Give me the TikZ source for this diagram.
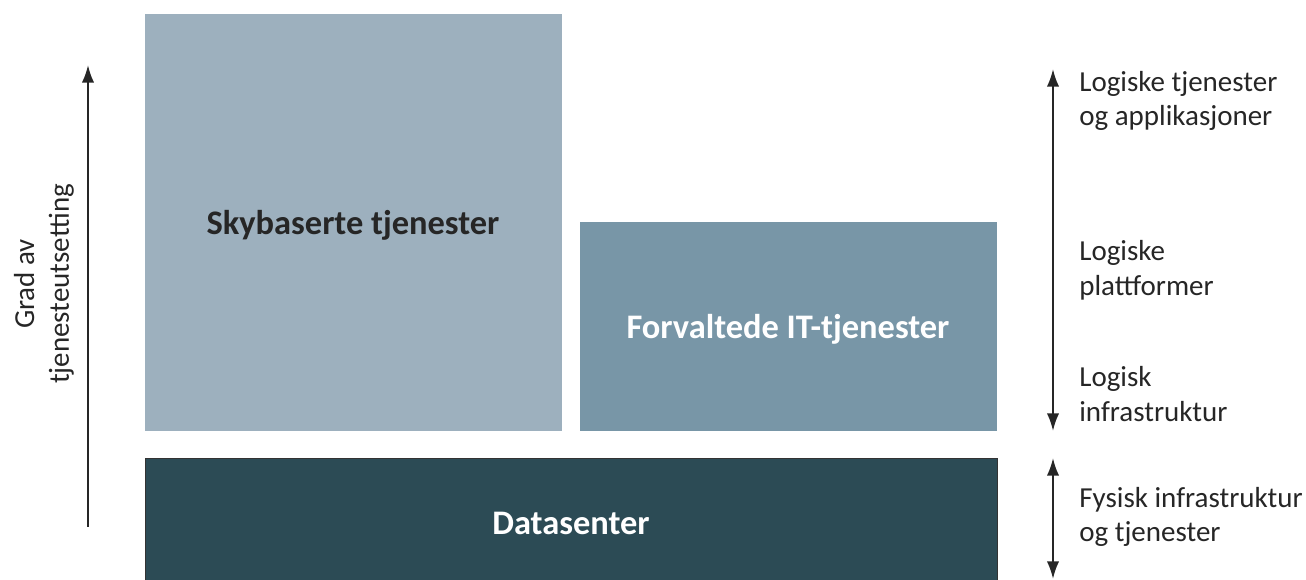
\documentclass[tikz,border=0pt]{standalone}
\usepackage{fontspec}
\setmainfont{Carlito}
\usetikzlibrary{arrows.meta}
\definecolor{skyblue}{HTML}{9DB0BE}
\definecolor{managed}{HTML}{7896A7}
\definecolor{dcenter}{HTML}{2C4B55}
\tikzset{
	box/.style = {anchor=north west, inner sep=0pt, font=\fontsize{19.6}{23}\selectfont\bfseries},
	lbl/.style = {align=left, anchor=west, inner sep=0pt, font=\fontsize{16.5}{19.8}\selectfont, text=black!85},
	axis/.style = {line width=1.2pt, black!85, {Latex[length=10pt,width=7pt]}-{Latex[length=10pt,width=7pt]}}
}

\begin{document}
\begin{tikzpicture}[x=0.02cm, y=-0.02cm]
	\useasboundingbox (0,0) rectangle (1306,580);
	% boxes
	\node (sky) [box, fill=skyblue, minimum width=8.34cm, minimum height=8.34cm] at (145,14) {};
	\node (sky text) [box, anchor=center, text=black!85] at (353,225) {Skybaserte tjenester};
	\node (forv) [box, fill=managed, minimum width=8.34cm, minimum height=4.18cm] at (580,222) {};
	\node (forv text) [box, anchor=center, text=white] at (788,329) {Forvaltede IT-tjenester};
	\node (dc) [box, fill=dcenter, draw=black!80, line width=0.6pt, minimum width=17.04cm, minimum height=2.7cm] at (145,458) {};
	\node (dc text) [box, anchor=center, text=white] at (571,523) {Datasenter};
	% left axis
	\coordinate (ltop) at (88,65);
	\coordinate (lbot) at (88,527);
	\draw[axis, {}-{Latex[length=10pt,width=7pt]}] (lbot) -- (ltop);
	\node (grad) [lbl, align=center, anchor=center, rotate=90] at (44,284) {Grad av\\tjenesteutsetting};
	% right axes
	\coordinate (r1top) at (1053,69);
	\coordinate (r1bot) at (1053,431);
	\coordinate (r2top) at (1053,458);
	\coordinate (r2bot) at (1053,579);
	\draw[axis] (r1top) -- (r1bot);
	\draw[axis] (r2top) -- (r2bot);
	\node (apps) [lbl] at (1079,101) {Logiske tjenester\\og applikasjoner};
	\node (plat) [lbl] at (1079,270) {Logiske\\plattformer};
	\node (infra) [lbl] at (1079,394) {Logisk\\infrastruktur};
	\node (fys) [lbl] at (1079,517) {Fysisk infrastruktur\\og tjenester};
\end{tikzpicture}
\end{document}
